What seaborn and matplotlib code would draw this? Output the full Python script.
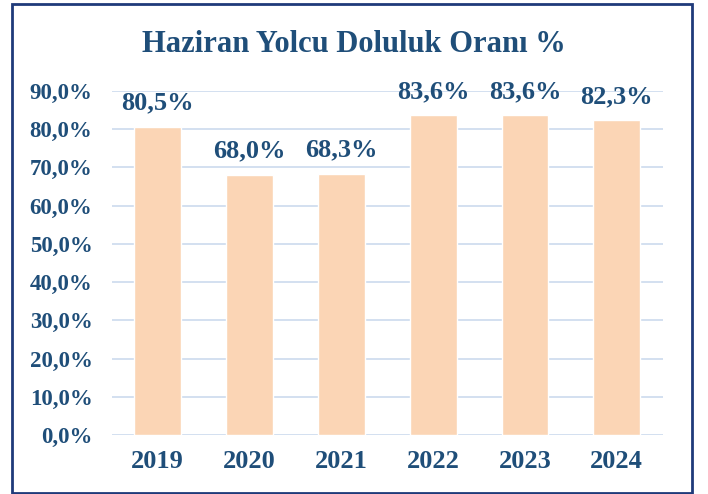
import matplotlib.pyplot as plt
import matplotlib.patches as mpatches
from matplotlib.ticker import FuncFormatter, MultipleLocator
import seaborn as sns
import pandas as pd

years = ['2019', '2020', '2021', '2022', '2023', '2024']
doluluk = [80.5, 68.0, 68.3, 83.6, 83.6, 82.3]

mavi = '#1F4E79'
df = pd.DataFrame({'yil': years, 'oran': doluluk})

sns.set_style('white')
plt.rcParams['font.family'] = ['Liberation Serif', 'DejaVu Serif']

fig = plt.figure(figsize=(7.08, 4.94), dpi=100)
ax = fig.add_axes([0.158, 0.119, 0.778, 0.697])

sns.barplot(data=df, x='yil', y='oran', color='#FBD5B5', width=0.51,
            saturation=1, ax=ax, zorder=3)

ax.set_ylim(0, 90)
ax.set_xlim(-0.5, 5.5)
ax.yaxis.set_major_locator(MultipleLocator(10))
ax.yaxis.set_major_formatter(FuncFormatter(lambda v, p: f'{v:.1f}%'.replace('.', ',')))
ax.grid(axis='y', color='#D0DDEF', linewidth=1.3, zorder=0)
ax.set_axisbelow(True)
for s in ax.spines.values():
    s.set_visible(False)
ax.tick_params(axis='y', length=0, labelsize=16.5, labelcolor=mavi, pad=14)
ax.tick_params(axis='x', length=0, labelsize=19, labelcolor=mavi, pad=11)
for lab in ax.get_xticklabels() + ax.get_yticklabels():
    lab.set_fontweight('bold')
ax.set_xlabel('')
ax.set_ylabel('')

for i, v in enumerate(doluluk):
    ax.annotate(f'{v:.1f}%'.replace('.', ','), (i, v), xytext=(0, 9),
                textcoords='offset points', ha='center', va='bottom',
                fontsize=19, fontweight='bold', color=mavi, clip_on=False)

fig.text(0.5, 0.909, 'Haziran Yolcu Doluluk Oranı %', ha='center', va='center',
         fontsize=22, fontweight='bold', color=mavi)

# çerçeve
fig.patches.append(mpatches.Rectangle((12 / 708, 1 / 494), 680 / 708, 489 / 494,
                                      transform=fig.transFigure, fill=False,
                                      edgecolor='#1F3A7A', linewidth=2))

fig.savefig('out.png', dpi=100)
